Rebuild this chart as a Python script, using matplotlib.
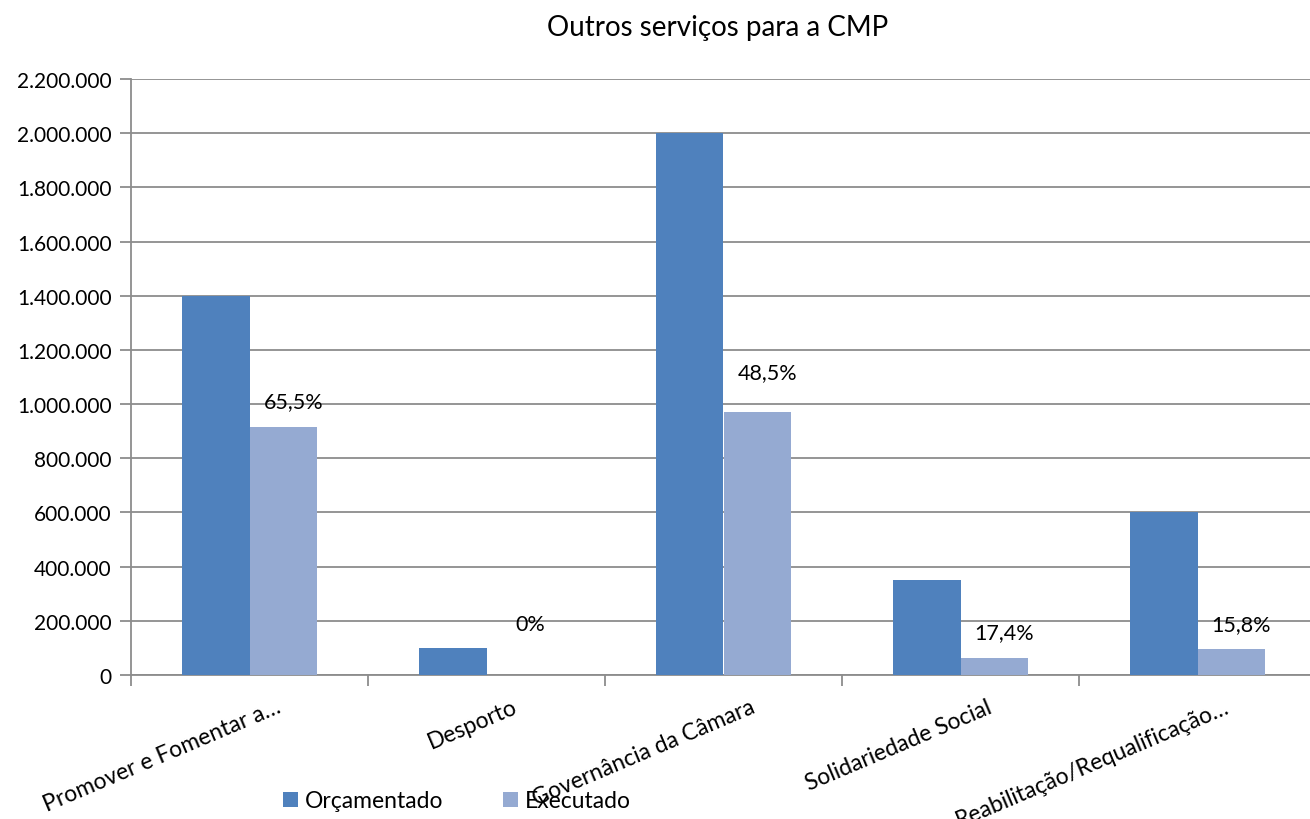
import matplotlib.pyplot as plt
import numpy as np
from matplotlib.ticker import FuncFormatter

plt.rcParams['font.family'] = ['Lato', 'DejaVu Sans']

categories = ['Promover e Fomentar a…', 'Desporto', 'Governância da Câmara',
              'Solidariedade Social', 'Reabilitação/Requalificação…']
orcamentado = [1400000, 100000, 2000000, 350000, 600000]
executado = [917000, 0, 970000, 61000, 95000]
pct_labels = ['65,5%', '0%', '48,5%', '17,4%', '15,8%']
label_rise = [25, 51, 40, 26, 25]  # pixels above the bar, as placed in the original

COL_ORC = '#4F81BD'
COL_EXE = '#95AAD2'
GRID = '#8C8C8C'


def thousands(v, pos):
    return f'{int(v):,}'.replace(',', '.')


def main():
    fig = plt.figure(figsize=(13.1, 8.2), dpi=100)
    ax = fig.add_axes([131 / 1310, 1 - 676 / 820, 1185 / 1310, 596 / 820])

    x = np.arange(len(categories))
    w = 0.285
    ax.bar(x - w / 2, orcamentado, w, color=COL_ORC, label='Orçamentado', zorder=3)
    ax.bar(x + w / 2, executado, w, color=COL_EXE, label='Executado', zorder=3)

    for xi, v, lab, rise in zip(x, executado, pct_labels, label_rise):
        ax.annotate(lab, (xi + w / 2, v), xytext=(10, rise), textcoords='offset pixels',
                    ha='center', va='center', fontsize=15.5)

    ax.set_xlim(-0.5, len(categories) - 0.5)
    ax.set_ylim(0, 2200000)
    ax.set_yticks(np.arange(0, 2200001, 200000))
    ax.yaxis.set_major_formatter(FuncFormatter(thousands))
    ax.grid(axis='y', color=GRID, linewidth=1.3, zorder=0)

    # category boundary ticks
    ax.set_xticks(np.arange(-0.5, len(categories)), minor=False)
    ax.set_xticklabels([])
    ax.tick_params(axis='x', length=8, color=GRID, width=1.3)
    ax.tick_params(axis='y', length=8, color=GRID, width=1.3, labelsize=15, pad=6)
    for xi, name in zip(x, categories):
        ax.text(xi + 0.11, -0.035, name, transform=ax.get_xaxis_transform(),
                rotation=23, rotation_mode='anchor', ha='right', va='top', fontsize=16.5)

    for s in ['top', 'right']:
        ax.spines[s].set_visible(False)
    ax.spines['left'].set_color(GRID)
    ax.spines['bottom'].set_color(GRID)
    ax.spines['left'].set_linewidth(1.3)
    ax.spines['bottom'].set_linewidth(1.3)

    fig.text(718 / 1310, 1 - 28 / 820, 'Outros serviços para a CMP', ha='center', va='center', fontsize=20)

    fig.legend(loc='center', bbox_to_anchor=(457 / 1310, 1 - 802 / 820), ncol=2, frameon=False,
               fontsize=16.5, handlelength=0.65, handleheight=0.65, handletextpad=0.3, columnspacing=2.6)

    fig.savefig('out.png', dpi=100)


if __name__ == '__main__':
    main()
